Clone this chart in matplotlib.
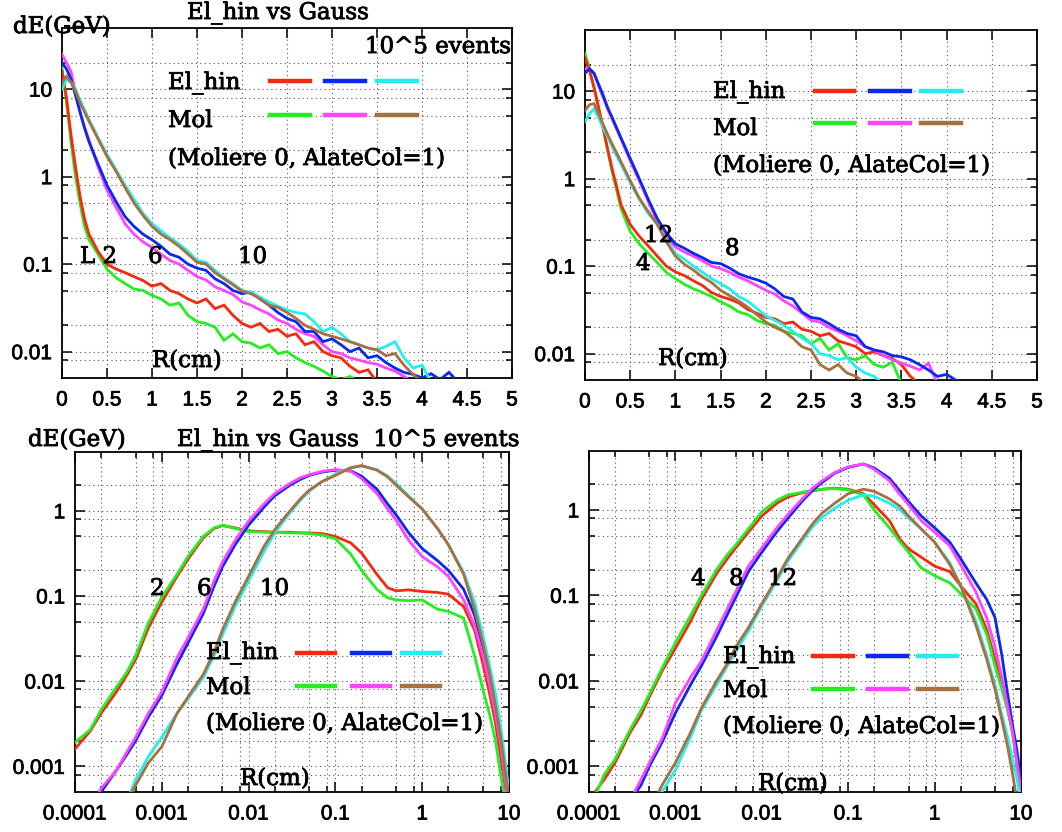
import numpy as np
import matplotlib
matplotlib.use("Agg")
import matplotlib.pyplot as plt
from matplotlib.lines import Line2D
from matplotlib.ticker import FixedLocator, NullFormatter
import matplotlib.patheffects as pe

W, H = 1062, 832

# ---------------- data ----------------
r_top = [0, 0.05, 0.1, 0.15, 0.2, 0.25, 0.3, 0.4, 0.5, 0.6, 0.7, 0.8, 0.9, 1.0,
         1.1, 1.2, 1.3, 1.4, 1.5, 1.6, 1.7, 1.8, 1.9, 2.0, 2.1, 2.2, 2.3, 2.4,
         2.5, 2.6, 2.7, 2.8, 2.9, 3.0, 3.1, 3.2, 3.3, 3.4, 3.5, 3.6, 3.7, 3.8,
         3.9, 4.0, 4.1, 4.2, 4.3, 4.4]

tl_red = [16, 8, 3.0, 1.3, 0.6, 0.33, 0.22, 0.14, 0.10, 0.088, 0.080, 0.072, 0.065,
          0.056, 0.060, 0.050, 0.046, 0.040, 0.036, 0.040, 0.031, 0.034, 0.026, 0.021,
          0.019, 0.021, 0.017, 0.018, 0.015, 0.016, 0.012, 0.013, 0.010, 0.009, 0.0085,
          0.0068, 0.0058, 0.0062, 0.0045]
tl_green = [18, 7, 2.5, 1.0, 0.5, 0.27, 0.19, 0.13, 0.088, 0.070, 0.060, 0.052, 0.050,
            0.044, 0.040, 0.034, 0.036, 0.026, 0.022, 0.021, 0.019, 0.0135, 0.016, 0.013,
            0.0125, 0.011, 0.012, 0.0095, 0.010, 0.0085, 0.0075, 0.0068, 0.006, 0.0052,
            0.0048, 0.0052, 0.0045]
tl_blue = [20, 17, 13, 8.5, 5.5, 3.6, 2.5, 1.4, 0.8, 0.52, 0.35, 0.27, 0.22, 0.19, 0.16,
           0.13, 0.12, 0.10, 0.090, 0.085, 0.068, 0.060, 0.050, 0.046, 0.048, 0.040,
           0.034, 0.028, 0.024, 0.022, 0.017, 0.017, 0.013, 0.014, 0.012, 0.010, 0.011,
           0.0085, 0.009, 0.0075, 0.0065, 0.0058, 0.0055, 0.0050, 0.0056, 0.0048, 0.0058,
           0.0045]
tl_magenta = [25, 20, 16, 9, 5.5, 3.7, 2.6, 1.3, 0.7, 0.45, 0.29, 0.22, 0.18, 0.155,
              0.13, 0.11, 0.10, 0.085, 0.072, 0.066, 0.055, 0.050, 0.045, 0.037, 0.034,
              0.030, 0.027, 0.023, 0.021, 0.018, 0.016, 0.015, 0.012, 0.010, 0.0095,
              0.0085, 0.0080, 0.0075, 0.0072, 0.0065, 0.0060, 0.0052, 0.0045]
tl_brown = [12, 14, 12, 9.5, 7, 5.5, 4.3, 2.7, 1.7, 1.15, 0.75, 0.5, 0.36, 0.27, 0.22,
            0.19, 0.16, 0.13, 0.105, 0.10, 0.08, 0.068, 0.058, 0.049, 0.046, 0.040, 0.034,
            0.032, 0.028, 0.024, 0.020, 0.018, 0.016, 0.015, 0.014, 0.013, 0.012, 0.011,
            0.0105, 0.0090, 0.0095, 0.0070, 0.0055, 0.0045]
tl_cyan = [10, 13, 12, 10, 7.5, 5.8, 4.5, 2.8, 1.8, 1.2, 0.8, 0.55, 0.38, 0.29, 0.24,
           0.20, 0.17, 0.14, 0.11, 0.105, 0.085, 0.070, 0.060, 0.050, 0.048, 0.042, 0.037,
           0.033, 0.030, 0.028, 0.027, 0.022, 0.017, 0.019, 0.016, 0.013, 0.012, 0.011,
           0.0105, 0.0115, 0.013, 0.0085, 0.0065, 0.0070, 0.0045]

tr_red = [24, 17, 11, 6.5, 3.8, 2.2, 1.3, 0.5, 0.3, 0.22, 0.17, 0.13, 0.10, 0.086, 0.078,
          0.068, 0.060, 0.050, 0.045, 0.042, 0.038, 0.032, 0.029, 0.026, 0.025, 0.022,
          0.023, 0.019, 0.018, 0.016, 0.017, 0.014, 0.013, 0.012, 0.010, 0.0105, 0.0095,
          0.0088, 0.0075, 0.0055, 0.0045]
tr_green = [27, 18, 11, 6.5, 3.8, 2.1, 1.2, 0.45, 0.25, 0.18, 0.14, 0.11, 0.085, 0.072,
            0.062, 0.055, 0.050, 0.045, 0.039, 0.035, 0.030, 0.028, 0.024, 0.022, 0.021,
            0.018, 0.017, 0.016, 0.013, 0.015, 0.011, 0.013, 0.009, 0.0085, 0.0095,
            0.0075, 0.007, 0.008, 0.0045]
tr_blue = [16, 18, 16, 12, 9, 6.5, 5.0, 2.9, 1.7, 1.0, 0.58, 0.35, 0.24, 0.18, 0.16, 0.14,
           0.125, 0.11, 0.107, 0.095, 0.082, 0.075, 0.070, 0.064, 0.055, 0.045, 0.042,
           0.030, 0.026, 0.025, 0.022, 0.019, 0.017, 0.016, 0.012, 0.011, 0.0105, 0.0095,
           0.0092, 0.0085, 0.0075, 0.0065, 0.0055, 0.0058, 0.0050, 0.0045]
tr_magenta = [18, 18, 16, 11.5, 8.5, 6.3, 4.8, 2.8, 1.6, 0.95, 0.55, 0.32, 0.22, 0.165,
              0.145, 0.13, 0.115, 0.10, 0.094, 0.085, 0.075, 0.068, 0.060, 0.053, 0.048,
              0.040, 0.035, 0.029, 0.024, 0.023, 0.020, 0.018, 0.016, 0.014, 0.012, 0.011,
              0.0095, 0.0085, 0.0078, 0.0072, 0.0065, 0.0078, 0.0045]
tr_brown = [6, 7, 7.2, 5.5, 4.2, 3.2, 2.5, 1.55, 0.95, 0.6, 0.42, 0.3, 0.19, 0.13, 0.105,
            0.09, 0.075, 0.065, 0.053, 0.046, 0.040, 0.034, 0.028, 0.023, 0.020, 0.018,
            0.015, 0.012, 0.011, 0.0075, 0.0065, 0.0075, 0.006, 0.0055, 0.0045]
tr_cyan = [4.5, 5.5, 6.3, 5.0, 3.8, 3.0, 2.3, 1.45, 0.9, 0.58, 0.4, 0.3, 0.2, 0.14, 0.12,
           0.10, 0.085, 0.072, 0.063, 0.055, 0.045, 0.040, 0.033, 0.027, 0.024, 0.021,
           0.018, 0.015, 0.013, 0.010, 0.0095, 0.0085, 0.009, 0.0070, 0.006, 0.0055, 0.0045]

r_bot = [1e-4, 1.5e-4, 2e-4, 3e-4, 4e-4, 5e-4, 7e-4, 1e-3, 1.5e-3, 2e-3, 3e-3, 4e-3,
         5e-3, 7e-3, 0.01, 0.015, 0.02, 0.03, 0.04, 0.05, 0.07, 0.1, 0.15, 0.2, 0.3, 0.4,
         0.5, 0.7, 1.0, 1.5, 2.0, 3.0, 4.0, 5.0, 6.0, 7.0, 8.0, 9.0, 10.0]

bl_red = [0.0016, 0.0026, 0.0042, 0.0075, 0.012, 0.018, 0.042, 0.085, 0.17, 0.27, 0.48,
          0.62, 0.67, 0.63, 0.58, 0.57, 0.56, 0.56, 0.55, 0.55, 0.54, 0.50, 0.42, 0.32,
          0.18, 0.125, 0.115, 0.118, 0.113, 0.11, 0.105, 0.075, 0.040, 0.016, 0.007,
          0.0032, 0.0013, 0.0006, 0.0003]
bl_green = [0.0019, 0.0027, 0.0046, 0.0085, 0.013, 0.02, 0.048, 0.097, 0.18, 0.29, 0.50,
            0.63, 0.68, 0.62, 0.57, 0.56, 0.56, 0.55, 0.55, 0.54, 0.52, 0.47, 0.31, 0.20,
            0.12, 0.095, 0.09, 0.088, 0.09, 0.07, 0.066, 0.055, 0.02, 0.008, 0.004,
            0.002, 0.0008, 0.0004, 0.0002]
bl_blue = [0.0002, 0.0003, 0.0005, 0.0009, 0.0014, 0.002, 0.0038, 0.0068, 0.016, 0.028,
           0.062, 0.13, 0.22, 0.40, 0.68, 1.1, 1.5, 2.0, 2.35, 2.6, 2.85, 3.0, 2.95, 2.55,
           1.8, 1.2, 0.9, 0.55, 0.36, 0.26, 0.2, 0.12, 0.06, 0.025, 0.011, 0.005, 0.002,
           0.0009, 0.0004]
bl_magenta = [0.0002, 0.0003, 0.00055, 0.0009, 0.0015, 0.0022, 0.0042, 0.0075, 0.019,
              0.032, 0.07, 0.15, 0.25, 0.45, 0.76, 1.2, 1.6, 2.1, 2.45, 2.65, 2.9, 3.05,
              2.9, 2.4, 1.6, 1.05, 0.78, 0.45, 0.29, 0.22, 0.17, 0.09, 0.045, 0.02, 0.009,
              0.004, 0.0018, 0.0007, 0.0003]
bl_brown = [0.00005, 0.0001, 0.00015, 0.00025, 0.0004, 0.0006, 0.0011, 0.0017, 0.0042,
            0.0065, 0.012, 0.022, 0.04, 0.085, 0.17, 0.38, 0.6, 1.0, 1.4, 1.75, 2.2, 2.6,
            3.2, 3.4, 3.0, 2.5, 2.0, 1.45, 1.05, 0.62, 0.4, 0.18, 0.07, 0.028, 0.012,
            0.005, 0.0022, 0.0009, 0.0004]
bl_cyan = [0.00004, 0.00008, 0.00013, 0.00022, 0.0004, 0.0007, 0.0013, 0.0022, 0.0042,
           0.0062, 0.011, 0.02, 0.035, 0.075, 0.15, 0.33, 0.55, 0.95, 1.35, 1.7, 2.2, 2.7,
           3.2, 3.35, 3.05, 2.55, 2.1, 1.5, 1.05, 0.62, 0.4, 0.19, 0.085, 0.035, 0.015,
           0.007, 0.003, 0.0012, 0.0005]

br_red = [0.0004, 0.0007, 0.0011, 0.0025, 0.004, 0.0065, 0.013, 0.024, 0.05, 0.09, 0.18,
          0.27, 0.36, 0.55, 0.85, 1.2, 1.42, 1.6, 1.68, 1.75, 1.8, 1.75, 1.55, 1.15, 0.75,
          0.45, 0.35, 0.28, 0.22, 0.19, 0.13, 0.08, 0.04, 0.018, 0.009, 0.005, 0.0025,
          0.0011, 0.0005]
br_green = [0.0003, 0.0008, 0.0012, 0.0027, 0.0045, 0.007, 0.014, 0.028, 0.058, 0.10,
            0.2, 0.3, 0.39, 0.6, 0.95, 1.3, 1.5, 1.62, 1.7, 1.75, 1.78, 1.72, 1.5, 1.0,
            0.62, 0.42, 0.32, 0.21, 0.17, 0.14, 0.105, 0.07, 0.035, 0.015, 0.008, 0.0045,
            0.0024, 0.001, 0.0004]
br_blue = [0.0001, 0.00015, 0.0002, 0.0004, 0.0006, 0.001, 0.0019, 0.0042, 0.009, 0.015,
           0.033, 0.06, 0.095, 0.19, 0.32, 0.56, 0.8, 1.3, 1.75, 2.1, 2.7, 3.15, 3.45, 3.1,
           2.35, 1.65, 1.25, 0.85, 0.62, 0.42, 0.27, 0.14, 0.09, 0.055, 0.02, 0.007,
           0.003, 0.0015, 0.0007]
br_magenta = [0.0001, 0.00015, 0.0002, 0.0004, 0.0007, 0.0011, 0.0021, 0.0055, 0.011,
              0.017, 0.039, 0.07, 0.11, 0.22, 0.36, 0.62, 0.88, 1.38, 1.85, 2.2, 2.75,
              3.2, 3.45, 3.0, 2.2, 1.5, 1.15, 0.75, 0.55, 0.38, 0.23, 0.11, 0.055, 0.025,
              0.011, 0.005, 0.0025, 0.0011, 0.0005]
br_brown = [0.0001, 0.0001, 0.0001, 0.0001, 0.0001, 0.0003, 0.0006, 0.0011, 0.0025,
            0.0048, 0.01, 0.016, 0.025, 0.042, 0.08, 0.16, 0.27, 0.48, 0.72, 0.92, 1.2,
            1.55, 1.75, 1.65, 1.35, 1.1, 0.85, 0.6, 0.42, 0.23, 0.13, 0.045, 0.018, 0.008,
            0.0035, 0.0017, 0.0008, 0.0004, 0.0002]
br_cyan = [0.0001, 0.0001, 0.00015, 0.0002, 0.0003, 0.0004, 0.0005, 0.0009, 0.0022,
           0.0045, 0.009, 0.015, 0.022, 0.038, 0.075, 0.15, 0.25, 0.45, 0.66, 0.82, 1.05,
           1.3, 1.5, 1.45, 1.2, 1.0, 0.8, 0.6, 0.42, 0.24, 0.13, 0.05, 0.02, 0.009, 0.004,
           0.0022, 0.0012, 0.0007, 0.0004]

# ---------------- style ----------------
C_RED = "#f42a10"
C_BLUE = "#0a28f0"
C_CYAN = "#22eef0"
C_GREEN = "#22ee22"
C_MAG = "#ff44ff"
C_BROWN = "#a8703e"
SERIF = "DejaVu Serif"
SANS = "Liberation Sans"
FS_SERIF = 16.5
FS_TICK = 15

plt.rcParams["font.family"] = [SANS, "DejaVu Sans"]

fig = plt.figure(figsize=(W / 100, H / 100), dpi=100)

THICK = [pe.withStroke(linewidth=0.6, foreground="black")]
THICK_T = [pe.withStroke(linewidth=0.5, foreground="black")]


def add_axes(l, t, r, b):
    return fig.add_axes([l / W, 1 - b / H, (r - l) / W, (b - t) / H])


def style_axes(ax):
    for s in ax.spines.values():
        s.set_linewidth(1.3)
        s.set_color("black")
    ax.tick_params(which="both", direction="in", top=True, right=True,
                   labelsize=FS_TICK, width=1.1, color="black")
    ax.tick_params(which="major", length=7)
    ax.tick_params(which="minor", length=4)
    ax.tick_params(axis="x", which="major", pad=9)
    ax.tick_params(axis="y", which="major", pad=7)
    ax.grid(True, which="both", linestyle=(0, (1, 3)), color="#555555", linewidth=0.8)
    ax.set_axisbelow(True)


def thicken_labels(ax):
    for lab in ax.get_xticklabels() + ax.get_yticklabels():
        lab.set_path_effects(THICK_T)


def setup_top(ax):
    ax.set_yscale("log")
    ax.set_xlim(0, 5)
    ax.set_ylim(0.005, 50)
    ax.set_xticks([0, 0.5, 1, 1.5, 2, 2.5, 3, 3.5, 4, 4.5, 5])
    ax.set_xticklabels(["0", "0.5", "1", "1.5", "2", "2.5", "3", "3.5", "4", "4.5", "5"])
    ax.set_yticks([0.01, 0.1, 1, 10])
    ax.set_yticklabels(["0.01", "0.1", "1", "10"])
    ax.yaxis.set_minor_locator(FixedLocator([0.008, 0.02, 0.05, 0.08, 0.2, 0.5, 0.8,
                                             2, 5, 8, 20]))
    ax.yaxis.set_minor_formatter(NullFormatter())
    style_axes(ax)
    thicken_labels(ax)


def setup_bot(ax):
    ax.set_xscale("log")
    ax.set_yscale("log")
    ax.set_xlim(1e-4, 10)
    ax.set_ylim(0.0005, 4.9)
    ax.set_xticks([1e-4, 1e-3, 1e-2, 1e-1, 1, 10])
    ax.set_xticklabels(["0.0001", "0.001", "0.01", "0.1", "1", "10"])
    mx = []
    for d in [1e-4, 1e-3, 1e-2, 1e-1, 1]:
        mx += [2 * d, 5 * d, 8 * d]
    ax.xaxis.set_minor_locator(FixedLocator(mx))
    ax.xaxis.set_minor_formatter(NullFormatter())
    ax.set_yticks([0.001, 0.01, 0.1, 1])
    ax.set_yticklabels(["0.001", "0.01", "0.1", "1"])
    ax.yaxis.set_minor_locator(FixedLocator([0.0008, 0.002, 0.005, 0.008, 0.02, 0.05,
                                             0.08, 0.2, 0.5, 0.8, 2]))
    ax.yaxis.set_minor_formatter(NullFormatter())
    style_axes(ax)
    thicken_labels(ax)


def draw(ax, r, series):
    for vals, col in series:
        ax.plot(r[:len(vals)], vals, color=col, lw=2.0, solid_joinstyle="miter", zorder=3)


def ftext(x, y, s, size=FS_SERIF, **kw):
    fig.text(x / W, 1 - y / H, s, fontsize=size, family=SERIF, va="baseline",
             ha="left", zorder=10, path_effects=THICK, **kw)


def legend_lines(x0s, y1, y2):
    cols1 = [C_RED, C_BLUE, C_CYAN]
    cols2 = [C_GREEN, C_MAG, C_BROWN]
    for (xa, xb), c1, c2 in zip(x0s, cols1, cols2):
        fig.add_artist(Line2D([xa / W, xb / W], [1 - y1 / H, 1 - y1 / H], color=c1,
                              lw=3.2, transform=fig.transFigure, zorder=10))
        fig.add_artist(Line2D([xa / W, xb / W], [1 - y2 / H, 1 - y2 / H], color=c2,
                              lw=3.2, transform=fig.transFigure, zorder=10))


# ---- top-left ----
ax1 = add_axes(62, 28, 512, 378)
setup_top(ax1)
draw(ax1, r_top, [(tl_green, C_GREEN), (tl_red, C_RED), (tl_magenta, C_MAG),
                  (tl_blue, C_BLUE), (tl_cyan, C_CYAN), (tl_brown, C_BROWN)])

# ---- top-right ----
ax2 = add_axes(585, 30, 1037, 380)
setup_top(ax2)
draw(ax2, r_top, [(tr_green, C_GREEN), (tr_red, C_RED), (tr_magenta, C_MAG),
                  (tr_blue, C_BLUE), (tr_cyan, C_CYAN), (tr_brown, C_BROWN)])

# ---- bottom-left ----
ax3 = add_axes(75, 452, 509, 792)
setup_bot(ax3)
draw(ax3, r_bot, [(bl_red, C_RED), (bl_green, C_GREEN), (bl_blue, C_BLUE),
                  (bl_magenta, C_MAG), (bl_cyan, C_CYAN), (bl_brown, C_BROWN)])

# ---- bottom-right ----
ax4 = add_axes(589, 451, 1021, 792)
setup_bot(ax4)
draw(ax4, r_bot, [(br_red, C_RED), (br_green, C_GREEN), (br_blue, C_BLUE),
                  (br_magenta, C_MAG), (br_cyan, C_CYAN), (br_brown, C_BROWN)])

# ---------------- texts ----------------
# top-left
ftext(13, 33, "dE(GeV)")
ftext(187, 19, "El_hin vs Gauss")
ftext(365, 53, "10^5 events")
ftext(168, 89, "El_hin")
ftext(168, 127, "Mol")
ftext(168, 165, "(Moliere 0, AlateCol=1)")
ftext(80, 263, "L 2")
ftext(148, 263, "6")
ftext(238, 263, "10")
ftext(152, 367, "R(cm)")
legend_lines([(270, 310), (325, 365), (377, 417)], 81, 115)

# top-right
ftext(713, 98, "El_hin")
ftext(713, 135, "Mol")
ftext(713, 172, "(Moliere 0, AlateCol=1)")
ftext(644, 242, "12")
ftext(636, 270, "4")
ftext(725, 255, "8")
ftext(658, 365, "R(cm)")
legend_lines([(815, 854), (870, 910), (921, 961)], 91, 123)

# bottom-left
ftext(28, 446, "dE(GeV)")
ftext(177, 446, "El_hin vs Gauss  10^5 events")
ftext(150, 595, "2")
ftext(197, 595, "6")
ftext(260, 595, "10")
ftext(206, 659, "El_hin")
ftext(206, 694, "Mol")
ftext(206, 730, "(Moliere 0, AlateCol=1)")
ftext(240, 785, "R(cm)")
legend_lines([(297, 335), (352, 390), (402, 440)], 653, 686)

# bottom-right
ftext(691, 585, "4")
ftext(729, 585, "8")
ftext(768, 585, "12")
ftext(723, 663, "El_hin")
ftext(723, 697, "Mol")
ftext(723, 733, "(Moliere 0, AlateCol=1)")
ftext(758, 790, "R(cm)")
legend_lines([(813, 853), (868, 907), (918, 957)], 656, 689)

fig.savefig("out.png", dpi=100)
